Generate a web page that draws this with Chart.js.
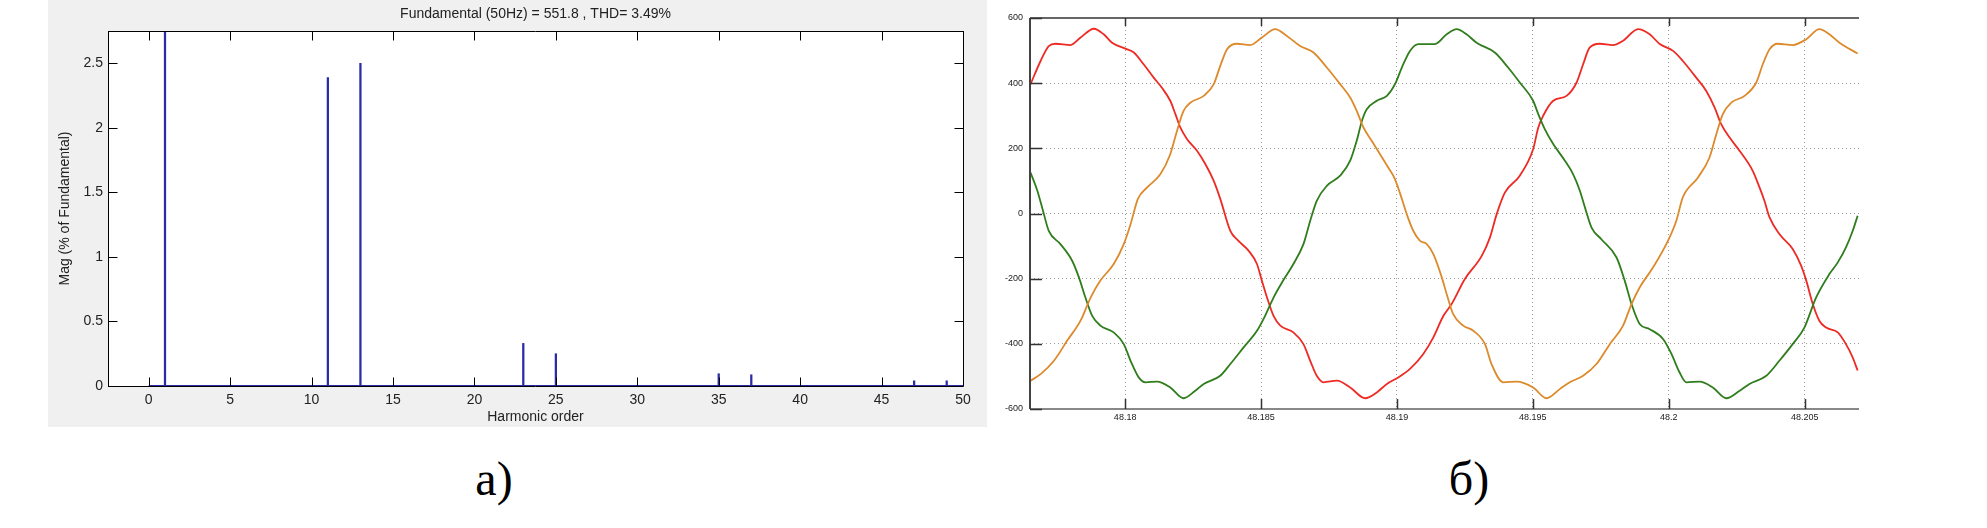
<!DOCTYPE html>
<html>
<head>
<meta charset="utf-8">
<script src="https://cdn.jsdelivr.net/npm/chart.js@4.4.0/dist/chart.umd.min.js"></script>
<style>
  html, body { margin: 0; padding: 0; background: #fff; }
  #page { position: relative; width: 1987px; height: 528px; overflow: hidden; }
  #spectrum { position: absolute; left: 48px; top: 0; background: #f0f0f0; }
  #wave { position: absolute; left: 990px; top: 0; }
  .cap { position: absolute; top: 455px; font: 48px "Liberation Serif", "Times New Roman", serif; line-height: 48px; transform: translateX(-50%); color: #000; }
</style>
</head>
<body>
<div id="page">
  <canvas id="spectrum" width="939" height="427"></canvas>
  <canvas id="wave" width="880" height="430"></canvas>
  <div class="cap" style="left:494px">а)</div>
  <div class="cap" style="left:1469px">б)</div>
</div>
<script>
// a) harmonic spectrum
const harmonicOrder = [1, 11, 13, 23, 25, 35, 37, 47, 49];
const harmonicMag = [100, 2.39, 2.5, 0.33, 0.25, 0.095, 0.087, 0.04, 0.04];
const baselineRange = [0, 50];
const harmonicTicks = [0, 5, 10, 15, 20, 25, 30, 35, 40, 45, 50];
const magTicks = [0, 0.5, 1, 1.5, 2, 2.5];

// b) phase voltages
const redT = [48.17652, 48.17689, 48.17719, 48.17744, 48.17799, 48.17836, 48.17885, 48.17921, 48.17952, 48.18001,
  48.18032, 48.18068, 48.18105, 48.18136, 48.18166, 48.18185, 48.18203, 48.18228, 48.18265, 48.18295,
  48.18326, 48.1835, 48.18387, 48.18417, 48.18454, 48.18485, 48.18503, 48.18522, 48.18546, 48.18571,
  48.18619, 48.18656, 48.18681, 48.18705, 48.1873, 48.18779, 48.18828, 48.18883, 48.18926, 48.18963,
  48.19005, 48.19048, 48.19097, 48.19134, 48.19171, 48.19201, 48.1925, 48.19312, 48.19342, 48.19367,
  48.19397, 48.19452, 48.19501, 48.1952, 48.19538, 48.19575, 48.19624, 48.19661, 48.19685, 48.19709,
  48.19746, 48.19795, 48.19832, 48.19887, 48.1993, 48.19967, 48.20016, 48.20052, 48.20101, 48.20138,
  48.20169, 48.20193, 48.20224, 48.20261, 48.20309, 48.20334, 48.20352, 48.20371, 48.20407, 48.20456,
  48.20487, 48.20506, 48.2053, 48.20554, 48.20579, 48.20622, 48.20652, 48.20677, 48.20695];
const redV = [397, 468, 514, 521, 517, 540, 567, 550, 524, 506,
  494, 458, 417, 385, 346, 305, 264, 228, 192, 152,
  100, 45, -53, -84, -114, -155, -206, -258, -314, -344,
  -365, -401, -452, -498, -518, -513, -534, -567, -549, -523,
  -503, -477, -431, -380, -314, -278, -201, -130, -74, -2,
  64, 116, 197, 264, 300, 346, 361, 402, 458, 509,
  521, 517, 530, 566, 550, 520, 499, 468, 417, 376,
  325, 274, 233, 192, 131, 80, 39, -12, -63, -109,
  -160, -206, -278, -329, -350, -365, -401, -442, -482];

const orangeT = [48.17652, 48.17689, 48.17738, 48.17787, 48.17836, 48.17873, 48.17909, 48.17958, 48.17995, 48.1802,
  48.18047, 48.18081, 48.1813, 48.18166, 48.18191, 48.18215, 48.1824, 48.18289, 48.18326, 48.1835,
  48.18375, 48.18411, 48.1846, 48.18503, 48.18552, 48.18595, 48.18644, 48.18693, 48.18742, 48.18791,
  48.18828, 48.18852, 48.18877, 48.18907, 48.18938, 48.18968, 48.18993, 48.19018, 48.19036, 48.1906,
  48.19085, 48.1911, 48.19134, 48.19165, 48.19183, 48.19207, 48.19244, 48.19281, 48.19324, 48.19348,
  48.19391, 48.1944, 48.19501, 48.1955, 48.19599, 48.19636, 48.19685, 48.19734, 48.19783, 48.19832,
  48.19863, 48.19893, 48.19942, 48.19997, 48.20028, 48.20052, 48.20107, 48.2015, 48.20175, 48.20199,
  48.2023, 48.20279, 48.20322, 48.20346, 48.20371, 48.20401, 48.20456, 48.20506, 48.20554, 48.20591,
  48.20628, 48.20695];
const orangeV = [-513, -493, -452, -390, -329, -258, -206, -155, -94, -33,
  45, 80, 121, 182, 254, 315, 340, 361, 397, 453,
  504, 521, 517, 540, 566, 545, 514, 494, 448, 397,
  356, 315, 264, 223, 182, 141, 105, 45, -2, -53,
  -84, -94, -125, -196, -247, -309, -344, -360, -401, -462,
  -518, -516, -534, -567, -539, -518, -498, -462, -401, -344,
  -278, -227, -166, -84, -22, 50, 110, 172, 243, 305,
  340, 361, 402, 458, 504, 521, 517, 535, 566, 550,
  524, 491];

const greenT = [48.17652, 48.17677, 48.17698, 48.17719, 48.17762, 48.17805, 48.1783, 48.17854, 48.17879, 48.17909,
  48.17958, 48.17995, 48.1802, 48.1805, 48.18075, 48.18118, 48.18166, 48.18215, 48.18258, 48.18289,
  48.1835, 48.18387, 48.18436, 48.18485, 48.18515, 48.18546, 48.18577, 48.18619, 48.18656, 48.18681,
  48.18705, 48.18742, 48.18791, 48.18828, 48.18852, 48.18871, 48.18889, 48.18926, 48.18963, 48.18993,
  48.19018, 48.19048, 48.19079, 48.1914, 48.19183, 48.1922, 48.19256, 48.19293, 48.1936, 48.19409,
  48.19452, 48.19501, 48.1952, 48.19544, 48.19575, 48.19618, 48.19648, 48.19673, 48.19693, 48.19716,
  48.19752, 48.19808, 48.19838, 48.19863, 48.19893, 48.1993, 48.19979, 48.2001, 48.2004, 48.20065,
  48.20114, 48.20162, 48.20212, 48.20261, 48.20297, 48.20359, 48.20407, 48.20456, 48.20499, 48.20542,
  48.20591, 48.20622, 48.20652, 48.20677, 48.20695];
const greenV = [126, 70, 8, -53, -94, -145, -196, -258, -314, -344,
  -365, -401, -452, -503, -518, -516, -534, -567, -544, -523,
  -498, -462, -411, -360, -314, -258, -212, -155, -94, -22,
  39, 85, 116, 162, 223, 284, 320, 346, 361, 397,
  448, 499, 520, 520, 550, 566, 550, 524, 494, 448,
  402, 346, 305, 259, 213, 162, 121, 70, 15, -43,
  -79, -135, -206, -278, -339, -355, -385, -431, -488, -518,
  -516, -534, -567, -544, -523, -498, -452, -401, -350, -258,
  -186, -150, -104, -53, -7];

const timeTicks = [48.18, 48.185, 48.19, 48.195, 48.2, 48.205];
const voltTicks = [-600, -400, -200, 0, 200, 400, 600];

const pairs = (xs, ys) => xs.map((x, i) => ({x: x, y: ys[i]}));

Chart.defaults.font.family = '"Liberation Sans", Arial, sans-serif';
Chart.defaults.animation = false;

// white plot box, box edges and matlab-style inward ticks
const framePlugin = {
  id: 'frame',
  beforeDraw(chart, args, opts) {
    if (!opts.plotBg) return;
    const {ctx, chartArea: a} = chart;
    ctx.save();
    ctx.fillStyle = opts.plotBg;
    ctx.fillRect(a.left, a.top, a.right - a.left, a.bottom - a.top);
    ctx.restore();
  },
  afterDatasetsDraw(chart, args, opts) {
    const {ctx, chartArea: a, scales} = chart;
    ctx.save();
    for (const e of opts.edges || []) {
      const horiz = e.side === 'top' || e.side === 'bottom';
      let pos = {top: a.top, bottom: a.bottom, left: a.left, right: a.right}[e.side];
      pos = e.width % 2 ? Math.round(pos) + 0.5 : Math.round(pos);
      ctx.strokeStyle = e.color;
      ctx.lineWidth = e.width;
      ctx.beginPath();
      if (horiz) { ctx.moveTo(a.left, pos); ctx.lineTo(a.right, pos); }
      else { ctx.moveTo(pos, a.top); ctx.lineTo(pos, a.bottom); }
      ctx.stroke();
      if (!e.tick) continue;
      const sc = horiz ? scales.x : scales.y;
      const dir = (e.side === 'top' || e.side === 'left') ? 1 : -1;
      ctx.lineWidth = e.tickWidth || 1;
      ctx.strokeStyle = e.tickColor || e.color;
      ctx.beginPath();
      for (const t of sc.ticks) {
        const p = Math.round(sc.getPixelForValue(t.value)) + 0.5;
        if (horiz) { ctx.moveTo(p, pos); ctx.lineTo(p, pos + dir * e.tick); }
        else { ctx.moveTo(pos, p); ctx.lineTo(pos + dir * e.tick, p); }
      }
      ctx.stroke();
    }
    ctx.restore();
  }
};

const txt = '#222';

new Chart(document.getElementById('spectrum'), {
  type: 'bar',
  data: {
    datasets: [
      {
        type: 'line',
        data: baselineRange.map(h => ({x: h, y: 0})),
        borderColor: '#2b2ba8',
        borderWidth: 2,
        pointRadius: 0
      },
      {
        type: 'bar',
        data: pairs(harmonicOrder, harmonicMag),
        backgroundColor: '#2b2ba8',
        borderWidth: 0,
        barThickness: 1.6
      }
    ]
  },
  options: {
    responsive: false,
    layout: {padding: {top: 0, right: 24, bottom: 0, left: 0}},
    plugins: {
      legend: {display: false},
      tooltip: {enabled: false},
      title: {
        display: true,
        text: 'Fundamental (50Hz) = 551.8 , THD= 3.49%',
        fullSize: false,
        color: txt,
        font: {size: 14, weight: 'normal'},
        padding: {top: 6, bottom: 8.2}
      },
      frame: {
        plotBg: '#ffffff',
        edges: [
          {side: 'top', color: '#000', width: 1, tick: 9},
          {side: 'bottom', color: '#000', width: 1, tick: 9},
          {side: 'left', color: '#000', width: 1, tick: 9},
          {side: 'right', color: '#000', width: 1, tick: 9}
        ]
      }
    },
    scales: {
      x: {
        type: 'linear',
        min: -2.5,
        max: 50,
        offset: false,
        afterBuildTicks: s => { s.ticks = harmonicTicks.map(v => ({value: v})); },
        afterFit: s => { s.height = 41; },
        grid: {display: false, drawTicks: false},
        border: {display: false},
        ticks: {padding: 6, color: txt, font: {size: 14}, autoSkip: false, maxRotation: 0, callback: v => String(v)},
        title: {display: true, text: 'Harmonic order', color: txt, font: {size: 14}, padding: {top: 0, bottom: 1}}
      },
      y: {
        min: 0,
        max: 2.75,
        afterBuildTicks: s => { s.ticks = magTicks.map(v => ({value: v})); },
        afterFit: s => { s.width = 60; },
        grid: {display: false, drawTicks: false},
        border: {display: false},
        ticks: {padding: 5, color: txt, font: {size: 14}, autoSkip: false, callback: v => String(v)},
        title: {display: true, text: 'Mag (% of Fundamental)', color: txt, font: {size: 14}, padding: {top: 9, bottom: 0}}
      }
    }
  },
  plugins: [framePlugin]
});

const phase = (t, v, color) => ({
  data: pairs(t, v),
  borderColor: color,
  borderWidth: 1.8,
  pointRadius: 0,
  cubicInterpolationMode: 'monotone'
});

new Chart(document.getElementById('wave'), {
  type: 'line',
  data: {
    datasets: [
      phase(orangeT, orangeV, '#dc8a2c'),
      phase(greenT, greenV, '#2f7d1c'),
      phase(redT, redV, '#ee2a24')
    ]
  },
  options: {
    responsive: false,
    layout: {padding: {top: 18, right: 11, bottom: 0, left: 0}},
    plugins: {
      legend: {display: false},
      tooltip: {enabled: false},
      frame: {
        edges: [
          {side: 'top', color: '#666', width: 2, tick: 8, tickColor: '#333', tickWidth: 1.5},
          {side: 'bottom', color: '#888', width: 2, tick: 10, tickColor: '#333', tickWidth: 1.5},
          {side: 'left', color: '#444', width: 2, tick: 12, tickColor: '#333', tickWidth: 1.5}
        ]
      }
    },
    scales: {
      x: {
        type: 'linear',
        min: 48.1765,
        max: 48.207,
        afterBuildTicks: s => { s.ticks = timeTicks.map(v => ({value: v})); },
        afterFit: s => { s.height = 21; },
        grid: {color: '#9a9a9a', lineWidth: 1, drawTicks: false},
        border: {display: false, dash: [1, 3]},
        ticks: {padding: 3, color: txt, font: {size: 9}, autoSkip: false, maxRotation: 0, callback: v => String(v)}
      },
      y: {
        min: -600,
        max: 600,
        afterBuildTicks: s => { s.ticks = voltTicks.map(v => ({value: v})); },
        afterFit: s => { s.width = 40; },
        grid: {color: '#9a9a9a', lineWidth: 1, drawTicks: false},
        border: {display: false, dash: [1, 3]},
        ticks: {padding: 7, color: txt, font: {size: 9}, autoSkip: false, callback: v => String(v)}
      }
    }
  },
  plugins: [framePlugin]
});
</script>
</body>
</html>
